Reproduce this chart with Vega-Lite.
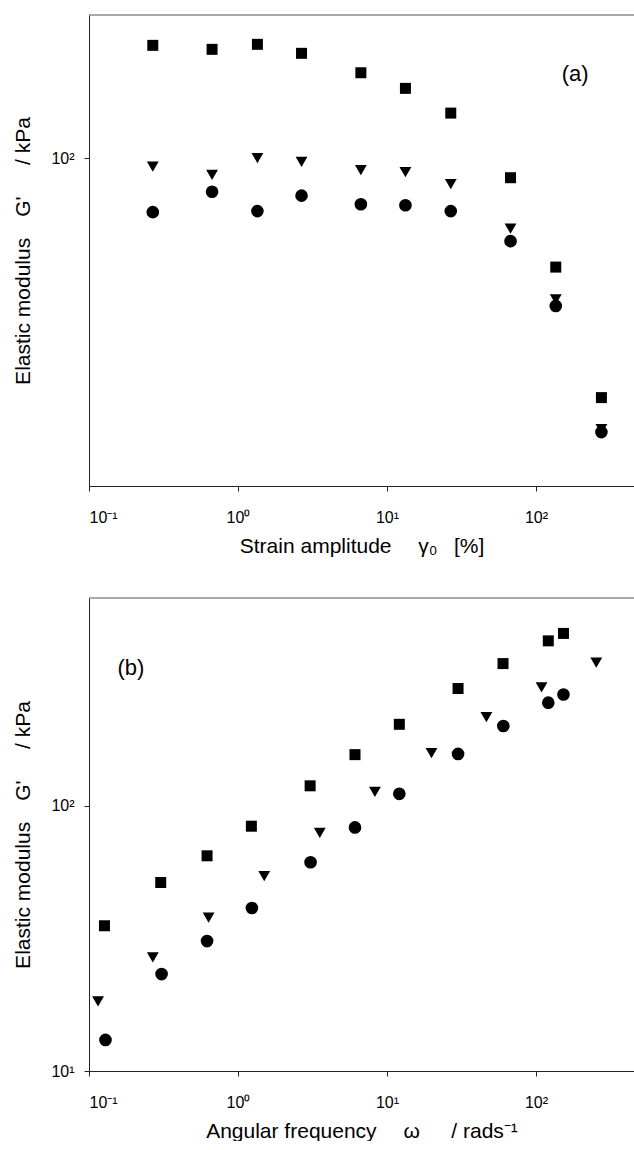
{
  "$schema": "https://vega.github.io/schema/vega-lite/v6.json",
  "background": "white",
  "padding": {"left": 12, "top": 14, "right": 0, "bottom": 0},
  "spacing": 41,
  "config": {
    "view": {"stroke": null},
    "axis": {
      "grid": false,
      "domainColor": "#222",
      "tickColor": "#222",
      "tickSize": 5,
      "labelFont": "Liberation Sans",
      "labelFontSize": 16,
      "labelColor": "#000",
      "titleFont": "Liberation Sans",
      "titleFontSize": 21,
      "titleFontWeight": "normal",
      "titleColor": "#000"
    }
  },
  "vconcat": [
    {
      "width": 545,
      "height": 471,
      "layer": [
        {
          "data": {"values": [{"y": 273}]},
          "mark": {"type": "rule", "color": "#555", "strokeWidth": 1},
          "encoding": {"y": {"field": "y", "type": "quantitative"}}
        },
        {
          "data": {"values": [
            {"x": 0.268, "y": 220.6, "s": "sq"},
            {"x": 0.67, "y": 214.5, "s": "sq"},
            {"x": 1.35, "y": 222.2, "s": "sq"},
            {"x": 2.67, "y": 208.6, "s": "sq"},
            {"x": 6.68, "y": 182, "s": "sq"},
            {"x": 13.3, "y": 163.1, "s": "sq"},
            {"x": 26.8, "y": 137.1, "s": "sq"},
            {"x": 67.5, "y": 87.1, "s": "sq"},
            {"x": 135.8, "y": 46.5, "s": "sq"},
            {"x": 275, "y": 18.6, "s": "sq"},
            {"x": 0.268, "y": 94.1, "s": "tri"},
            {"x": 0.67, "y": 88.9, "s": "tri"},
            {"x": 1.35, "y": 100, "s": "tri"},
            {"x": 2.67, "y": 97.4, "s": "tri"},
            {"x": 6.68, "y": 91.9, "s": "tri"},
            {"x": 13.3, "y": 90.6, "s": "tri"},
            {"x": 26.8, "y": 83.3, "s": "tri"},
            {"x": 67.5, "y": 60.9, "s": "tri"},
            {"x": 135.8, "y": 37.1, "s": "tri"},
            {"x": 275, "y": 14.9, "s": "tri"},
            {"x": 0.268, "y": 68.4, "s": "cir"},
            {"x": 0.67, "y": 78.9, "s": "cir"},
            {"x": 1.35, "y": 68.9, "s": "cir"},
            {"x": 2.67, "y": 76.8, "s": "cir"},
            {"x": 6.68, "y": 72.3, "s": "cir"},
            {"x": 13.3, "y": 71.8, "s": "cir"},
            {"x": 26.8, "y": 68.9, "s": "cir"},
            {"x": 67.5, "y": 55.8, "s": "cir"},
            {"x": 135.8, "y": 35.4, "s": "cir"},
            {"x": 275, "y": 14.6, "s": "cir"}
          ]},
          "mark": {"type": "point", "filled": true, "opacity": 1, "color": "#000", "strokeWidth": 0},
          "encoding": {
            "x": {
              "field": "x", "type": "quantitative",
              "scale": {"type": "log", "domain": [0.1, 455], "nice": false},
              "axis": {
                "values": [0.1, 1, 10, 100],
                "labelExpr": "datum.value < 0.5 ? '10⁻¹' : datum.value < 5 ? '10⁰' : datum.value < 50 ? '10¹' : '10²'",
                "labelPadding": 18,
                "titlePadding": 10,
                "title": "Strain amplitude\u2003 γ₀\u2002 [%]"
              }
            },
            "y": {
              "field": "y", "type": "quantitative",
              "scale": {"type": "log", "domain": [10, 273], "nice": false},
              "axis": {
                "values": [100],
                "labelExpr": "'10²'",
                "labelPadding": 10,
                "titlePadding": 17,
                "title": "Elastic modulus\u2003G'\u2003\u2002/ kPa"
              }
            },
            "shape": {"field": "s", "type": "nominal", "scale": {"domain": ["sq", "tri", "cir"], "range": ["square", "triangle-down", "circle"]}, "legend": null},
            "size": {"field": "s", "type": "nominal", "scale": {"domain": ["sq", "tri", "cir"], "range": [121, 160, 108]}, "legend": null}
          }
        },
        {
          "data": {"values": [{"x": 183, "y": 181, "t": "(a)"}]},
          "mark": {"type": "text", "fontSize": 22, "font": "Liberation Sans", "color": "#000"},
          "encoding": {
            "x": {"field": "x", "type": "quantitative"},
            "y": {"field": "y", "type": "quantitative"},
            "text": {"field": "t"}
          }
        }
      ]
    },
    {
      "width": 545,
      "height": 473,
      "layer": [
        {
          "data": {"values": [{"y": 608}]},
          "mark": {"type": "rule", "color": "#555", "strokeWidth": 1},
          "encoding": {"y": {"field": "y", "type": "quantitative"}}
        },
        {
          "data": {"values": [
            {"x": 0.127, "y": 35.3, "s": "sq"},
            {"x": 0.303, "y": 51.4, "s": "sq"},
            {"x": 0.62, "y": 64.8, "s": "sq"},
            {"x": 1.23, "y": 83.8, "s": "sq"},
            {"x": 3.05, "y": 119, "s": "sq"},
            {"x": 6.1, "y": 156, "s": "sq"},
            {"x": 12.1, "y": 203, "s": "sq"},
            {"x": 30, "y": 277, "s": "sq"},
            {"x": 60.1, "y": 344, "s": "sq"},
            {"x": 121, "y": 419, "s": "sq"},
            {"x": 153, "y": 447, "s": "sq"},
            {"x": 0.115, "y": 18.3, "s": "tri"},
            {"x": 0.268, "y": 26.8, "s": "tri"},
            {"x": 0.635, "y": 37.9, "s": "tri"},
            {"x": 1.5, "y": 54.3, "s": "tri"},
            {"x": 3.54, "y": 79.1, "s": "tri"},
            {"x": 8.3, "y": 113, "s": "tri"},
            {"x": 19.9, "y": 158, "s": "tri"},
            {"x": 46.5, "y": 216, "s": "tri"},
            {"x": 109, "y": 280, "s": "tri"},
            {"x": 254, "y": 347, "s": "tri"},
            {"x": 0.129, "y": 13.1, "s": "cir"},
            {"x": 0.307, "y": 23.2, "s": "cir"},
            {"x": 0.62, "y": 30.9, "s": "cir"},
            {"x": 1.24, "y": 41.2, "s": "cir"},
            {"x": 3.07, "y": 61.3, "s": "cir"},
            {"x": 6.1, "y": 82.9, "s": "cir"},
            {"x": 12.1, "y": 111, "s": "cir"},
            {"x": 30, "y": 157, "s": "cir"},
            {"x": 60.4, "y": 200, "s": "cir"},
            {"x": 121, "y": 245, "s": "cir"},
            {"x": 153, "y": 263, "s": "cir"}
          ]},
          "mark": {"type": "point", "filled": true, "opacity": 1, "color": "#000", "strokeWidth": 0},
          "encoding": {
            "x": {
              "field": "x", "type": "quantitative",
              "scale": {"type": "log", "domain": [0.1, 455], "nice": false},
              "axis": {
                "values": [0.1, 1, 10, 100],
                "labelExpr": "datum.value < 0.5 ? '10⁻¹' : datum.value < 5 ? '10⁰' : datum.value < 50 ? '10¹' : '10²'",
                "labelPadding": 18,
                "titlePadding": 10,
                "title": "Angular frequency\u2003 ω\u2003\u2002/ rads⁻¹"
              }
            },
            "y": {
              "field": "y", "type": "quantitative",
              "scale": {"type": "log", "domain": [10, 608], "nice": false},
              "axis": {
                "values": [10, 100],
                "labelExpr": "datum.value < 50 ? '10¹' : '10²'",
                "labelPadding": 10,
                "titlePadding": 17,
                "title": "Elastic modulus\u2003G'\u2003\u2002/ kPa"
              }
            },
            "shape": {"field": "s", "type": "nominal", "scale": {"domain": ["sq", "tri", "cir"], "range": ["square", "triangle-down", "circle"]}, "legend": null},
            "size": {"field": "s", "type": "nominal", "scale": {"domain": ["sq", "tri", "cir"], "range": [121, 160, 108]}, "legend": null}
          }
        },
        {
          "data": {"values": [{"x": 0.191, "y": 331, "t": "(b)"}]},
          "mark": {"type": "text", "fontSize": 22, "font": "Liberation Sans", "color": "#000"},
          "encoding": {
            "x": {"field": "x", "type": "quantitative"},
            "y": {"field": "y", "type": "quantitative"},
            "text": {"field": "t"}
          }
        }
      ]
    }
  ]
}
